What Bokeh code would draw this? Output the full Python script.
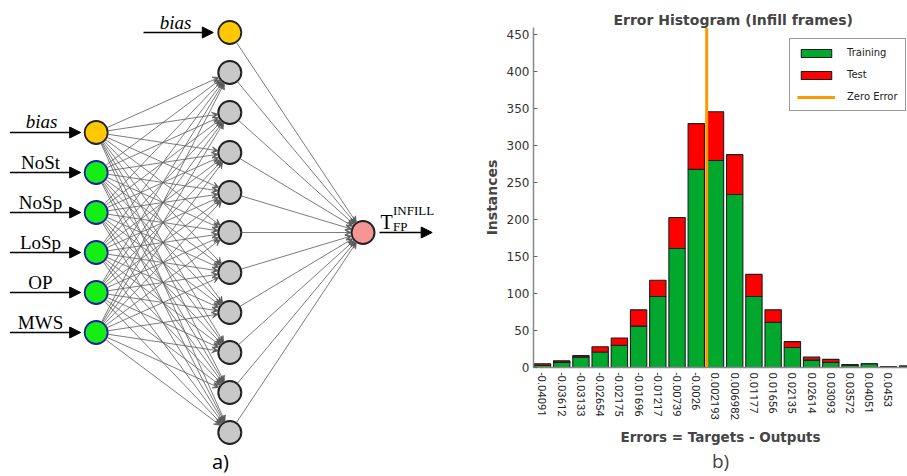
from bokeh.plotting import figure
from bokeh.models import (Range1d, Arrow, VeeHead, NormalHead, ColumnDataSource, FixedTicker,
                          LinearAxis, Legend, LegendItem)
from bokeh.core.properties import value
from bokeh.embed import file_html
from bokeh.resources import INLINE
import numpy as np

# ---------------- histogram data ----------------
bin_labels = ["-0.04091", "-0.03612", "-0.03133", "-0.02654", "-0.02175", "-0.01696",
              "-0.01217", "-0.00739", "-0.0026", "0.002193", "0.006982", "0.01177",
              "0.01656", "0.02135", "0.02614", "0.03093", "0.03572", "0.04051",
              "0.0453", "0.05009"]
train_counts = [3, 7, 14, 21, 30, 56, 96, 161, 268, 280, 234, 96, 61, 27, 10, 7, 3, 5, 1, 2]
test_counts = [2, 2, 2, 7, 10, 22, 22, 42, 62, 66, 54, 30, 17, 8, 4, 4, 1, 0, 0, 0]
y_ticks = [0, 50, 100, 150, 200, 250, 300, 350, 400, 450]
y_max = 460
zero_error = 0.0

# ---------------- network data ----------------
input_labels = ["bias", "NoSt", "NoSp", "LoSp", "OP", "MWS"]
n_hidden = 10
hidden_bias_label = "bias"
output_main = "T"
output_sub = "FP"
output_sup = "INFILL"

# ================= left: network diagram =================
pl = figure(width=480, height=476, x_range=Range1d(0, 480), y_range=Range1d(476, 0),
            output_backend="svg", toolbar_location=None, min_border=0,
            x_axis_type=None, y_axis_type=None)
pl.outline_line_color = None

R = 11.5
x_in, x_hid, x_out = 95.7, 229.3, 362.5
y_in = [132 + 40 * i for i in range(len(input_labels))]
y_hbias = 32
y_hid = [72 + 40 * i for i in range(n_hidden)]
y_out = 232


def edge(x0, y0, x1, y1):
    dx, dy = x1 - x0, y1 - y0
    d = np.hypot(dx, dy)
    ux, uy = dx / d, dy / d
    return x0 + ux * R, y0 + uy * R, x1 - ux * (R + 0.5), y1 - uy * (R + 0.5)


ex0, ey0, ex1, ey1 = [], [], [], []
for yi in y_in:
    for yh in y_hid:
        a = edge(x_in, yi, x_hid, yh)
        ex0.append(a[0]); ey0.append(a[1]); ex1.append(a[2]); ey1.append(a[3])
for yh in [y_hbias] + y_hid:
    a = edge(x_hid, yh, x_out, y_out)
    ex0.append(a[0]); ey0.append(a[1]); ex1.append(a[2]); ey1.append(a[3])

esrc = ColumnDataSource(dict(x0=ex0, y0=ey0, x1=ex1, y1=ey1))
pl.add_layout(Arrow(x_start="x0", y_start="y0", x_end="x1", y_end="y1", source=esrc,
                    line_color="#5a5a5a", line_width=0.8,
                    end=VeeHead(size=6, line_color="#5a5a5a", fill_color="#5a5a5a", line_width=0.8)))

# black input / output arrows
ax0 = [9.5] * len(input_labels) + [143, x_out + R + 5]
ay = y_in + [y_hbias, y_out]
ax1 = [x_in - R - 4] * len(input_labels) + [x_hid - R - 5, 431.7]
isrc = ColumnDataSource(dict(x0=ax0, y0=ay, x1=ax1, y1=ay))
pl.add_layout(Arrow(x_start="x0", y_start="y0", x_end="x1", y_end="y1", source=isrc,
                    line_color="black", line_width=1.3,
                    end=NormalHead(size=11, line_color="black", fill_color="black", line_width=1)))

# nodes
pl.circle([x_hid] * n_hidden, y_hid, radius=R, fill_color="#c8c8c8", line_color="#222222", line_width=2)
pl.circle([x_hid], [y_hbias], radius=R, fill_color="#ffc800", line_color="#222222", line_width=1.8)
pl.circle([x_in] * (len(input_labels) - 1), y_in[1:], radius=R, fill_color="#14ee14",
          line_color="#1c1ca8", line_width=1.8)
pl.circle([x_in], [y_in[0]], radius=R, fill_color="#ffc800", line_color="#222222", line_width=1.8)
pl.circle([x_out], [y_out], radius=R, fill_color="#f79494", line_color="#222222", line_width=2)

serif = value("Liberation Serif")
LBL = 10.4  # label centre above its arrow line
pl.text(x=[40] * (len(input_labels) - 1), y=[v - LBL for v in y_in[1:]], text=input_labels[1:],
        text_font=serif, text_font_size="19px", text_align="center", text_baseline="middle",
        text_color="black")
pl.text(x=[41, 175], y=[y_in[0] - LBL - 0.5, y_hbias - LBL], text=[input_labels[0], hidden_bias_label],
        text_font=serif, text_font_size="19px", text_font_style="italic", text_align="center",
        text_baseline="middle", text_color="black")
pl.text(x=[380], y=[y_out - 10.5], text=[output_main], text_font=serif, text_font_size="20px",
        text_align="left", text_baseline="middle", text_color="black")
pl.text(x=[392.5], y=[y_out - 22], text=[output_sup], text_font=serif, text_font_size="13px",
        text_align="left", text_baseline="middle", text_color="black")
pl.text(x=[392.5], y=[y_out - 6.4], text=[output_sub], text_font=serif, text_font_size="13px",
        text_align="left", text_baseline="middle", text_color="black")
pl.text(x=[220], y=[461], text=["a)"], text_font=value("Open Sans"), text_font_size="20px",
        text_align="center", text_baseline="middle", text_color="black")

# ================= right: histogram =================
idx = list(range(len(bin_labels)))
pr = figure(width=427, height=476, x_range=Range1d(-0.468, 18.99), y_range=Range1d(0, y_max),
            output_backend="svg", toolbar_location=None,
            min_border_left=53, min_border_right=0, min_border_top=27, min_border_bottom=109)
pr.outline_line_color = None
pr.grid.visible = False

hsrc = ColumnDataSource(dict(x=idx, train=train_counts, test=test_counts))
rs = pr.vbar_stack(["train", "test"], x="x", width=0.85, source=hsrc,
                   color=["#00a82d", "#ff0000"], line_color="#1e1e1e", line_width=1.1)
zero_pos = float(np.interp(zero_error, [float(s) for s in bin_labels], idx))
zr = pr.segment(x0=[zero_pos], y0=[0], x1=[zero_pos], y1=[y_max], line_color="#ff9900", line_width=3)

legend = Legend(items=[LegendItem(label="Training", renderers=[rs[0]]),
                       LegendItem(label="Test", renderers=[rs[1]]),
                       LegendItem(label="Zero Error", renderers=[zr])],
                location=(256, 256))
legend.label_text_font = "DejaVu Sans"
legend.label_text_font_size = "10px"
legend.label_text_color = "#222222"
legend.glyph_width = 38
legend.glyph_height = 10
legend.label_height = 13
legend.label_standoff = 12
legend.spacing = 9
legend.padding = 7
legend.margin = 0
legend.border_line_color = "#333333"
legend.border_line_width = 1.2
legend.background_fill_alpha = 1
pr.add_layout(legend, "center")

# title
pr.title.text = "Error Histogram (Infill frames)"
pr.title.align = "left"
pr.title.offset = 80
pr.title.text_font = "DejaVu Sans"
pr.title.text_font_size = "14px"
pr.title.text_font_style = "bold"
pr.title.standoff = 0

# y axis
ya = pr.yaxis[0]
ya.ticker = FixedTicker(ticks=y_ticks)
ya.axis_label = "Instances"
ya.axis_label_text_font = "DejaVu Sans"
ya.axis_label_text_font_size = "14px"
ya.axis_label_text_font_style = "bold"
ya.axis_label_standoff = 4
ya.major_label_text_font = "DejaVu Sans"
ya.major_label_text_font_size = "12px"
ya.major_label_text_color = "#333333"
ya.major_label_standoff = 4
ya.major_tick_in = 4
ya.major_tick_out = 0
ya.minor_tick_line_color = None
ya.axis_line_color = "#888888"
ya.axis_line_width = 1.5
ya.major_tick_line_color = "#666666"

# x axis
xa = pr.xaxis[0]
xa.ticker = FixedTicker(ticks=idx)
xa.major_label_overrides = {i: s for i, s in zip(idx, bin_labels)}
xa.major_label_orientation = "vertical"
xa.major_label_text_font = "Roboto"
xa.major_label_text_font_size = "11.3px"
xa.major_label_text_color = "#222222"
xa.major_label_standoff = 5
xa.major_tick_in = 0
xa.major_tick_out = 0
xa.minor_tick_line_color = None
xa.axis_line_color = "#888888"
xa.axis_line_width = 1.5
xa.axis_label = "Errors = Targets - Outputs"
xa.axis_label_text_font = "DejaVu Sans"
xa.axis_label_text_font_size = "13.5px"
xa.axis_label_text_font_style = "bold"
xa.axis_label_standoff = 6

bax = LinearAxis(ticker=FixedTicker(ticks=[]), axis_line_color=None, major_tick_line_color=None,
                 minor_tick_line_color=None, major_label_text_font_size="0px",
                 major_label_standoff=0, major_tick_out=0, major_tick_in=0,
                 axis_label="b)", axis_label_text_font="Open Sans", axis_label_text_font_size="19px",
                 axis_label_text_font_style="normal", axis_label_standoff=0)
pr.add_layout(bax, "below")

# two independent roots placed side by side (avoids frame alignment between the plots)
html = file_html([pl, pr], INLINE)
side_by_side = ("<style>body{display:flex !important;flex-direction:row;"
                "align-items:flex-start;margin:0;}</style>")
html = html.replace("</head>", side_by_side + "</head>", 1)
open("out.html", "w").write(html)
